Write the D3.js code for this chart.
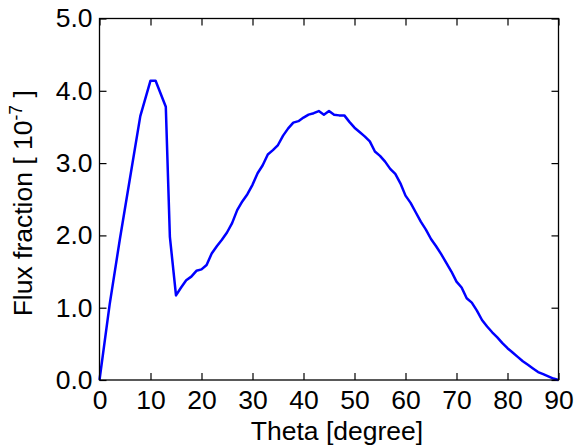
<!DOCTYPE html>
<html><head><meta charset="utf-8">
<script src="https://cdn.jsdelivr.net/npm/d3@7"></script>
<style>body{margin:0;background:#fff;}svg{display:block;font-family:"Liberation Sans",Arial,sans-serif;}</style>
</head><body>
<svg id="c" width="577" height="446"></svg>
<script>
const theta = [0,2,4,6,8,10,11,13,13.8,15,16,17,18,19,20,21,22,23,24,25,26,27,28,29,30,31,32,33,34,35,36,37,38,39,40,41,42,43,44,45,46,47,48,49,50,51,52,53,54,55,56,57,58,59,60,61,62,63,64,65,66,67,68,69,70,71,72,73,74,75,76,77,78,79,80,81,82,83,84,85,86,87,88,89,90];
const flux = [0,1.05,1.95,2.8,3.65,4.14,4.14,3.78,1.98,1.17,1.28,1.38,1.43,1.51,1.53,1.59,1.75,1.85,1.94,2.04,2.17,2.35,2.47,2.57,2.70,2.86,2.97,3.12,3.18,3.25,3.38,3.48,3.56,3.58,3.63,3.67,3.69,3.72,3.67,3.72,3.67,3.66,3.66,3.57,3.49,3.43,3.37,3.30,3.16,3.10,3.02,2.92,2.85,2.72,2.55,2.45,2.32,2.19,2.08,1.95,1.85,1.74,1.62,1.50,1.36,1.28,1.13,1.07,0.96,0.83,0.74,0.66,0.59,0.51,0.44,0.38,0.32,0.26,0.21,0.16,0.11,0.08,0.05,0.02,0.0];
const xTicks = [0,10,20,30,40,50,60,70,80,90];
const yTicks = [0,1,2,3,4,5];
const xLabel = "Theta [degree]";

const svg = d3.select("#c");
const L = 99.5, R = 558.5, T = 18.5, B = 380;
const x = d3.scaleLinear().domain([0,90]).range([L,R]);
const y = d3.scaleLinear().domain([0,5]).range([B,T]);
const fs = 26.5;

const gb = svg.append("g").attr("transform",`translate(0,${B})`)
  .call(d3.axisBottom(x).tickValues(xTicks).tickSizeInner(-7).tickSizeOuter(0).tickFormat(d3.format("d")));
const gt = svg.append("g").attr("transform",`translate(0,${T})`)
  .call(d3.axisTop(x).tickValues(xTicks).tickSizeInner(-7).tickSizeOuter(0).tickFormat(""));
const gl = svg.append("g").attr("transform",`translate(${L},0)`)
  .call(d3.axisLeft(y).tickValues(yTicks).tickSizeInner(-7).tickSizeOuter(0).tickPadding(7).tickFormat(d3.format(".1f")));
const gr = svg.append("g").attr("transform",`translate(${R},0)`)
  .call(d3.axisRight(y).tickValues(yTicks).tickSizeInner(-7).tickSizeOuter(0).tickFormat(""));
[gb,gt,gl,gr].forEach(g=>{
  g.selectAll(".domain").remove();
  g.selectAll("line").attr("stroke","#000").attr("stroke-width",1.2);
  g.selectAll("text").attr("font-size",fs).attr("fill","#000").attr("font-family","Liberation Sans, Arial, sans-serif");
});
gb.selectAll("text").attr("dy",0).attr("y",28.5);

svg.append("path").datum(theta.map((t,i)=>[t,flux[i]]))
  .attr("fill","none").attr("stroke","#0000ff").attr("stroke-width",2.5).attr("stroke-linejoin","round")
  .attr("d",d3.line().x(d=>x(d[0])).y(d=>y(d[1])));

svg.append("rect").attr("x",L).attr("y",T).attr("width",R-L).attr("height",B-T)
  .attr("fill","none").attr("stroke","#000").attr("stroke-width",1.3);

svg.append("text").attr("x",(L+R)/2+8).attr("y",439.5).attr("text-anchor","middle")
  .attr("font-size",fs).attr("fill","#000").text(xLabel);
const yl = svg.append("text").attr("transform",`translate(32,${(T+B)/2+4}) rotate(-90)`)
  .attr("text-anchor","middle").attr("font-size",fs).attr("fill","#000");
yl.append("tspan").text("Flux fraction [ 10");
yl.append("tspan").attr("font-size",17.5).attr("dy",-10).text("-7");
yl.append("tspan").attr("dy",10).text(" ]");
</script>
</body></html>
